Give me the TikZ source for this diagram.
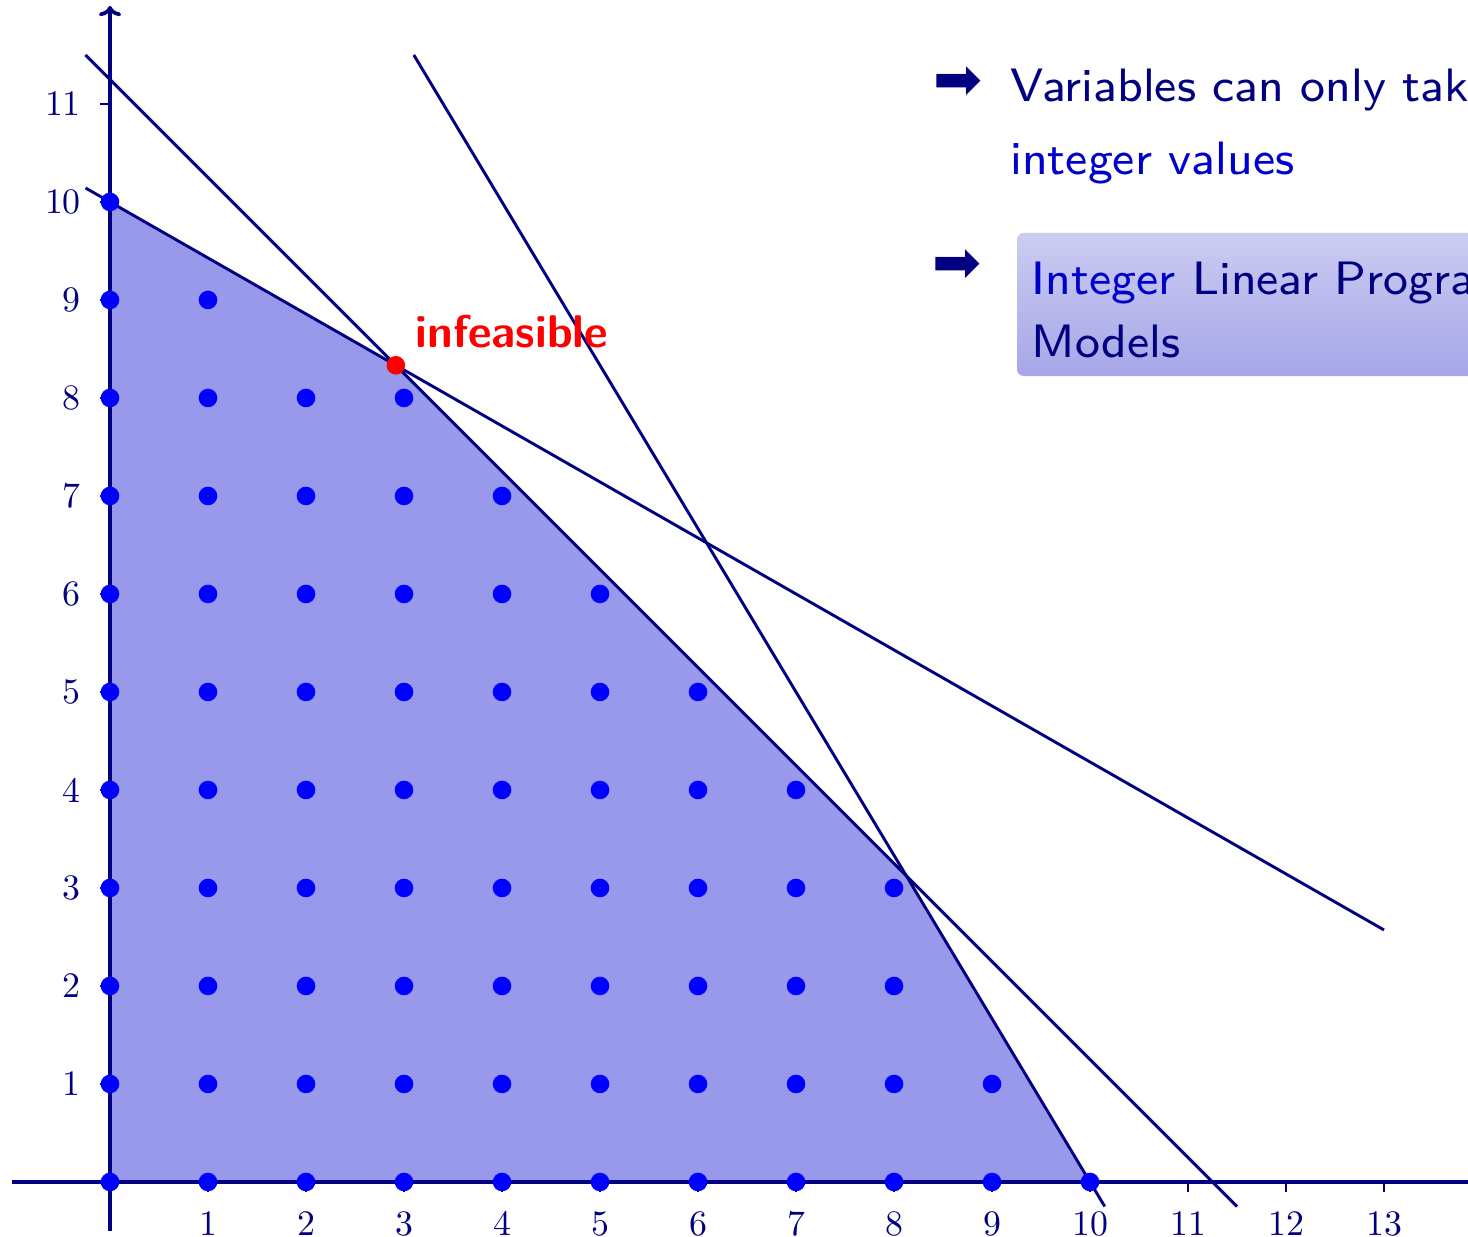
\documentclass[tikz,border=0pt]{standalone}
\usepackage{fontspec}
\usepackage{xcolor}
\usepackage{tikz}
\usetikzlibrary{arrows.meta}

\definecolor{axisnavy}{RGB}{0,0,128}
\definecolor{itemblue}{RGB}{0,0,204}
\definecolor{regionfill}{RGB}{153,153,235}
\definecolor{boxtop}{RGB}{204,204,242}
\definecolor{boxbottom}{RGB}{166,166,233}
\newfontfamily\arrowfont{DejaVu Sans}
\newcommand\slideline[1]{\scalebox{1.7}{\fontsize{8}{9.6}\selectfont\sffamily #1}}

\begin{document}
\begin{tikzpicture}[
    axis/.style={draw=axisnavy, line width=1.1pt, -{To[length=3pt, width=6.5pt]}},
    constraint/.style={draw=axisnavy, line width=0.85pt},
    tickmark/.style={draw=axisnavy, line width=0.8pt},
    ticklabel/.style={text=axisnavy, inner sep=0pt, font=\fontsize{10.4}{12}\selectfont},
    lattice/.style={fill=blue},
    slidetext/.style={inner sep=0pt, anchor=base west},
    bullet/.style={inner sep=0pt, text=axisnavy, font=\fontsize{17}{18}\arrowfont}
]
\useasboundingbox (-1.1224,-0.5612) rectangle (13.857,12.061);
\clip (-1.1224,-0.5612) rectangle (13.857,12.061);

% --- Feasible region ---
\fill[regionfill] (0,0) -- (0,10) -- (2.916667,8.333333) -- (8.125,3.125) -- (10,0) -- cycle;

% --- Constraints ---
\draw[constraint] (-0.25,10.142857) -- (13,2.571429);  % 4x+7y=70
\draw[constraint] (-0.25,11.5) -- (11.5,-0.25);        % x+y=11.25
\draw[constraint] (3.1,11.5) -- (10.15,-0.25);         % 5x+3y=50

% --- Axes ---
\draw[axis] (-1,0) -- (14.5,0);
\draw[axis] (0,-0.5) -- (0,12);

\foreach \x in {1,...,13} {
    \draw[tickmark] (\x,0) -- (\x,-0.1);
    \node[ticklabel, anchor=north] (xl\x) at (\x,-0.296) {\x};
}
\foreach \y in {1,...,11} {
    \draw[tickmark] (0,\y) -- (-0.1,\y);
    \node[ticklabel, anchor=east] (yl\y) at (-0.29,\y) {\y};
}

% --- Integer points ---
\foreach \x/\ymax in {0/10, 1/9, 2/8, 3/8, 4/7, 5/6, 6/5, 7/4, 8/3, 9/1, 10/0}
    \foreach \y in {0,...,\ymax}
        \fill[lattice] (\x,\y) circle (0.095);

% --- Infeasible vertex ---
\fill[red] (2.916667,8.333333) circle (0.095);
\node[slidetext, text=red, font=\fontsize{13.3}{16}\selectfont\sffamily\bfseries] (infeas) at (3.112,8.51) {infeasible};

% --- Items ---
\node[bullet] (bul1) at (8.653,11.214) {➡};
\node[slidetext, text=axisnavy] (item1a) at (9.18,11.024) {\slideline{Variables can only take}};
\node[slidetext, text=itemblue] (item1b) at (9.18,10.276) {\slideline{integer values}};

\shade[top color=boxtop, bottom color=boxbottom, rounded corners=2pt] (9.255,8.224) rectangle (15,9.684);
\node[bullet] (bul2) at (8.638,9.342) {➡};
\node[slidetext, text=axisnavy] (item2a) at (9.40,9.051) {\slideline{\textcolor{itemblue}{Integer} Linear Programming}};
\node[slidetext, text=axisnavy] (item2b) at (9.40,8.408) {\slideline{Models}};

\end{tikzpicture}
\end{document}
